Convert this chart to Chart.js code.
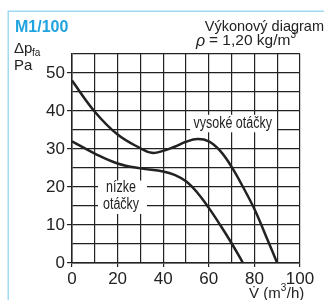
<!DOCTYPE html>
<html>
<head>
<meta charset="utf-8">
<script src="https://cdn.jsdelivr.net/npm/chart.js"></script>
<style>
  body { margin: 0; background: #fff; }
  canvas { display: block; }
</style>
</head>
<body>
<canvas id="myChart" width="324" height="300"></canvas>
<script>
// flow (m3/h) and pressure (Pa)
const highFlow = [0, 10, 20, 30, 35, 40, 45, 50, 55, 60, 65, 70, 75, 80, 85, 90];
const highPa   = [48, 39.8, 33.8, 30.2, 29, 29.5, 30.6, 31.9, 32.6, 32, 29.5, 25.3, 20, 14.2, 7.2, 0];
const lowFlow  = [0, 10, 20, 30, 40, 45, 50, 55, 60, 65, 70, 75];
const lowPa    = [32, 28.8, 26.2, 24.9, 24.1, 23.2, 21.5, 18.5, 14.5, 10, 5.2, 0];
const xTickLabels = [0, 20, 40, 60, 80, 100];
const yTickLabels = [0, 10, 20, 30, 40, 50];

const ink = '#222';
const font = '"Liberation Sans", Arial, sans-serif';

function pts(xs, ys) {
  return xs.map((x, i) => ({ x: x, y: ys[i] }));
}

// labels drawn inside the plot, placed in data units
const curveLabels = [
  { lines: ['vysoké otáčky'], x: 70.5, y: 36.6, box: [51.8, 89.9, 39, 34.4] },
  { lines: ['nízke', 'otáčky'], x: 21.5, y: 17.5, box: [11.4, 32.9, 21.7, 12.9] }
];

// text with a raised small part, e.g. m3
function supText(c, parts, x, y, size) {
  parts.forEach(p => {
    c.font = (p.sup ? '10px ' : size + 'px ') + font;
    c.fillText(p.t, x, p.sup ? y - 7 : y);
    x += c.measureText(p.t).width + (p.sup ? 0.5 : 0);
  });
}

const decor = {
  id: 'decor',
  beforeDraw(chart) {
    const c = chart.ctx;
    c.save();
    c.strokeStyle = '#a3daf3';
    c.lineWidth = 1.5;
    c.beginPath();
    c.moveTo(8.25, 300);
    c.lineTo(8.25, 11.25);
    c.lineTo(324, 11.25);
    c.stroke();
    c.restore();
  },
  afterDatasetsDraw(chart) {
    const c = chart.ctx;
    const xs = chart.scales.x, ys = chart.scales.y;
    c.save();
    curveLabels.forEach(l => {
      const x0 = xs.getPixelForValue(l.box[0]), x1 = xs.getPixelForValue(l.box[1]);
      const y0 = ys.getPixelForValue(l.box[2]), y1 = ys.getPixelForValue(l.box[3]);
      c.fillStyle = '#fff';
      c.fillRect(x0, y0, x1 - x0, y1 - y0);
      c.fillStyle = ink;
      c.font = '16px ' + font;
      c.textAlign = 'center';
      c.textBaseline = 'middle';
      const cx = xs.getPixelForValue(l.x), cy = ys.getPixelForValue(l.y);
      const lh = 17;
      l.lines.forEach((t, i) => {
        c.save();
        c.translate(cx, cy + (i - (l.lines.length - 1) / 2) * lh);
        c.scale(0.78, 1);   // condensed look
        c.fillText(t, 0, 0);
        c.restore();
      });
    });

    // header texts
    c.textBaseline = 'alphabetic';
    c.textAlign = 'left';
    c.fillStyle = '#1fa3e0';
    c.font = 'bold 16px ' + font;
    c.fillText('M1/100', 15, 31.5);

    c.fillStyle = ink;
    c.font = '14.5px ' + font;
    c.textAlign = 'right';
    c.fillText('Výkonový diagram', 324, 31);
    c.textAlign = 'left';
    c.font = 'italic 16px ' + font;
    c.fillText('ρ', 196, 46);
    supText(c, [{ t: '= 1,20 kg/m' }, { t: '3', sup: true }], 209, 45, 15.5);

    c.font = '15px ' + font;
    c.fillText('Δp', 14, 53);
    c.font = '10px ' + font;
    c.fillText('fa', 32, 56);
    c.font = '15px ' + font;
    c.fillText('Pa', 14, 70);

    supText(c, [{ t: 'V\u0307 (m' }, { t: '3', sup: true }, { t: '/h)' }], 249, 298, 15);
    c.restore();
  }
};

const ctx = document.getElementById('myChart').getContext('2d');
const myChart = new Chart(ctx, {
  type: 'line',
  data: {
    datasets: [
      {
        label: 'vysoké otáčky',
        data: pts(highFlow, highPa),
        borderColor: ink,
        borderWidth: 2.5,
        pointRadius: 0,
        tension: 0.4,
        fill: false
      },
      {
        label: 'nízke otáčky',
        data: pts(lowFlow, lowPa),
        borderColor: ink,
        borderWidth: 2.5,
        pointRadius: 0,
        tension: 0.4,
        fill: false
      }
    ]
  },
  options: {
    responsive: false,
    animation: false,
    devicePixelRatio: 1,
    layout: { padding: { left: 0, top: 54, right: 24, bottom: 0 } },
    plugins: { legend: { display: false }, tooltip: { enabled: false } },
    scales: {
      x: {
        type: 'linear',
        min: 0,
        max: 100,
        afterFit(s) { s.height = 37; },
        ticks: {
          stepSize: 10,
          autoSkip: false,
          maxRotation: 0,
          padding: 2,
          color: ink,
          font: { family: font, size: 17 },
          callback: v => xTickLabels.includes(v) ? v : ''
        },
        grid: {
          color: ink,
          lineWidth: 1.2,
          tickLength: 4,
          tickColor: c => xTickLabels.includes(c.tick.value) ? ink : 'rgba(0,0,0,0)'
        },
        border: { color: ink, width: 1.5 }
      },
      y: {
        min: 0,
        max: 55,
        afterFit(s) { s.width = 72; },
        ticks: {
          stepSize: 5,
          autoSkip: false,
          padding: 2,
          color: ink,
          font: { family: font, size: 17 },
          callback: v => yTickLabels.includes(v) ? v : ''
        },
        grid: {
          color: ink,
          lineWidth: 1.2,
          tickLength: 5,
          tickColor: c => yTickLabels.includes(c.tick.value) ? ink : 'rgba(0,0,0,0)'
        },
        border: { color: ink, width: 1.5 }
      }
    }
  },
  plugins: [decor]
});
</script>
</body>
</html>
